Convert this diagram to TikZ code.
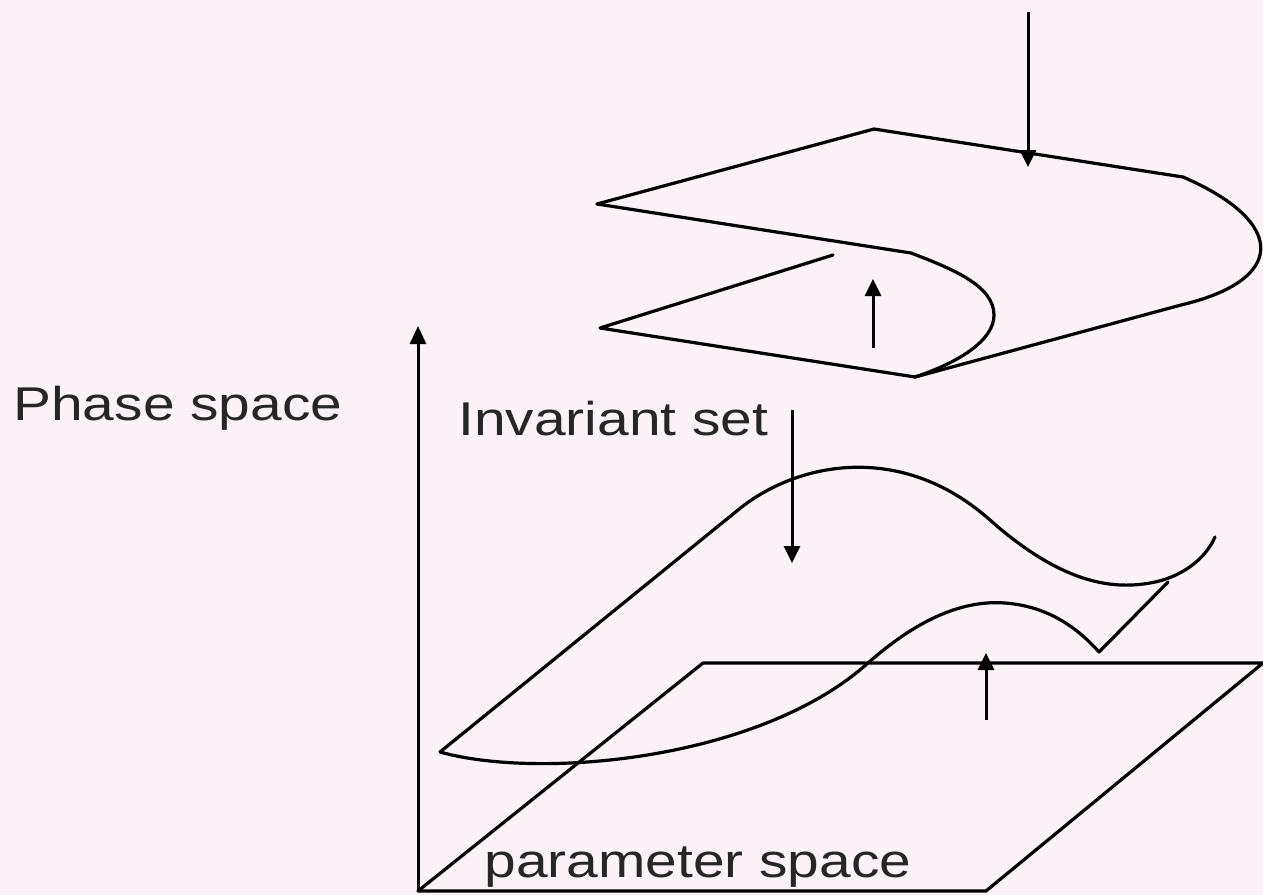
\documentclass[tikz,border=0pt]{standalone}
\usepackage{fontspec}
\newfontfamily\slidefont[FakeStretch=1.2]{Liberation Sans}
\usetikzlibrary{arrows.meta}
\definecolor{slidebg}{RGB}{250,242,246}
\definecolor{inkgray}{RGB}{38,38,38}
\tikzset{
  sheetline/.style={line width=1.6pt, line join=round, line cap=round},
  axisarrow/.style={-{Triangle[length=9pt, width=8pt]}, line width=1.5pt},
  flowarrow/.style={-{Triangle[length=8.5pt, width=8pt]}, line width=1.5pt},
  slidelabel/.style={anchor=base west, inner sep=0pt, text=inkgray, font=\slidefont\fontsize{23.7}{28}\selectfont}
}

\begin{document}
\begin{tikzpicture}[x=0.5pt, y=-0.5pt]
  \fill[slidebg] (0,0) rectangle (1263,895);
  \useasboundingbox (0,0) rectangle (1263,895);

  \node[slidelabel] (phaselabel) at (13,420) {Phase space};
  \node[slidelabel] (invlabel) at (458,435) {Invariant set};
  \node[slidelabel] (paramlabel) at (484,877) {parameter space};

  % axis and parameter plane
  \coordinate (origin) at (418,891);
  \coordinate (ytip) at (418,326);
  \draw[axisarrow] (origin) -- (ytip);
  \draw[sheetline] (origin) -- (986,891) -- (1263,663) -- (703,663) -- cycle;

  % folded sheet
  \coordinate (ftop) at (874,129);
  \coordinate (fleft) at (597,204);
  \coordinate (finner) at (911,253);
  \coordinate (fbottom) at (915,377);
  \coordinate (flow) at (600,328);
  \coordinate (fhid) at (833,255);
  \coordinate (fright1) at (1183,177);
  \coordinate (fright2) at (1181,305);
  \draw[sheetline] (fleft) -- (ftop) -- (fright1)
    .. controls (1287,222) and (1287,280) .. (fright2) -- (fbottom);
  \draw[sheetline] (fleft) -- (finner)
    .. controls (950,268) and (994,285) .. (994,315)
    .. controls (994,340) and (960,362) .. (fbottom);
  \draw[sheetline] (fhid) -- (flow) -- (fbottom);

  % invariant set
  \coordinate (sleft) at (440,752);
  \coordinate (sline) at (738,510);
  \coordinate (scusp) at (1099,652);
  \coordinate (sjoin) at (1168,582);
  \draw[sheetline] (sleft) -- (sline)
    .. controls (795,463) and (900,440) .. (990,520)
    .. controls (1060,582) and (1110,590) .. (1150,583)
    .. controls (1180,578) and (1205,560) .. (1215,537);
  \draw[sheetline] (sleft)
    .. controls (540,780) and (760,760) .. (868,663)
    .. controls (920,617) and (965,600) .. (1005,603)
    .. controls (1045,606) and (1075,625) .. (scusp) -- (sjoin);

  % flow arrows
  \coordinate (a1s) at (1028,12);
  \coordinate (a1e) at (1028,167);
  \coordinate (a2s) at (873,348);
  \coordinate (a2e) at (873,279);
  \coordinate (a3s) at (792,410);
  \coordinate (a3e) at (792,563);
  \coordinate (a4s) at (986,720);
  \coordinate (a4e) at (986,653);
  \draw[flowarrow] (a1s) -- (a1e);
  \draw[flowarrow] (a2s) -- (a2e);
  \draw[flowarrow] (a3s) -- (a3e);
  \draw[flowarrow] (a4s) -- (a4e);
\end{tikzpicture}
\end{document}
